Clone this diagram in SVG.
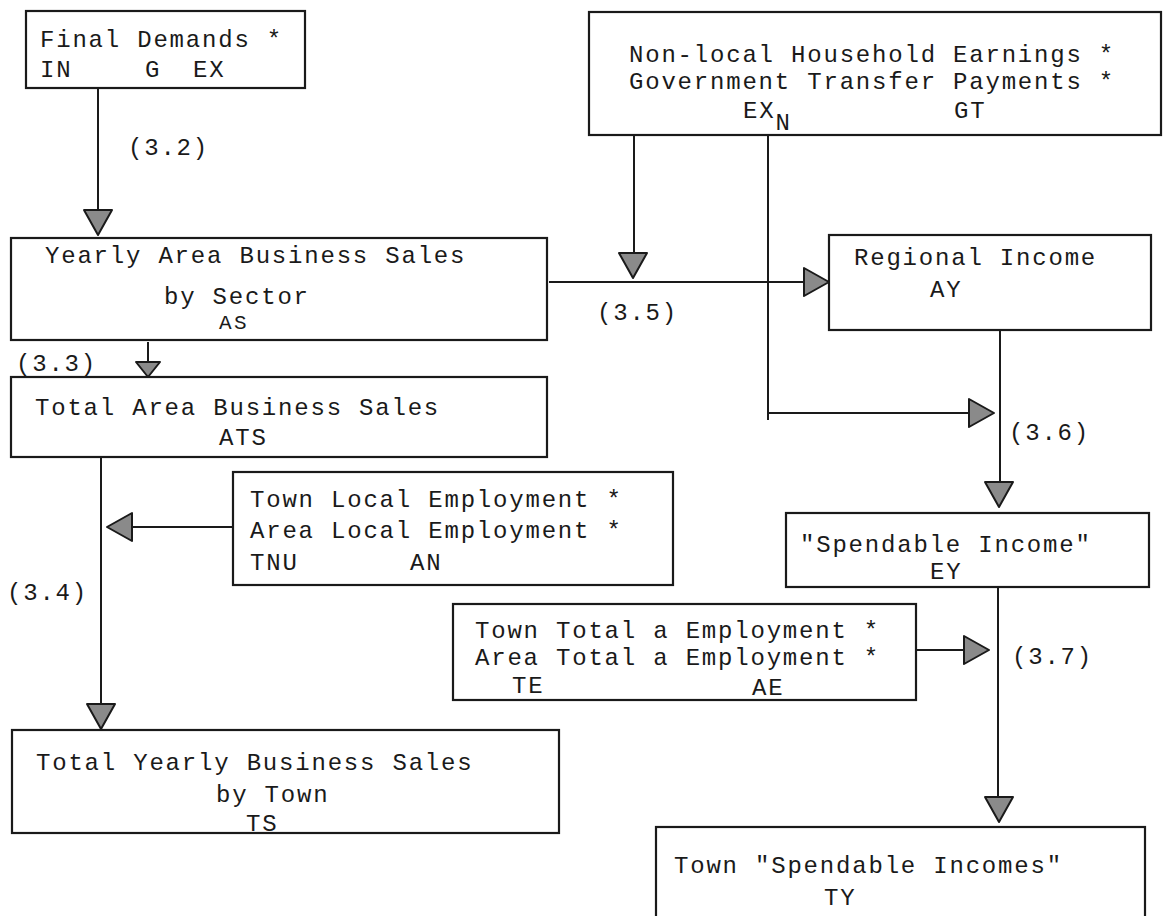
<svg xmlns="http://www.w3.org/2000/svg" width="1163" height="916" viewBox="0 0 1163 916">
<defs>
<style>
.box{fill:none;stroke:#1a1a1a;stroke-width:2.2}
.ln{fill:none;stroke:#1a1a1a;stroke-width:2}
.t{font-family:"Liberation Mono","DejaVu Sans Mono",monospace;font-size:24px;letter-spacing:1.8px;fill:#1a1a1a}
.s{font-size:21px;letter-spacing:2.5px}
.ah{fill:#8a8a8a;stroke:#1a1a1a;stroke-width:2;stroke-linejoin:round}
</style>
<polygon id="arr" class="ah" points="-14,-25 14,-25 0,0"/>
<polygon id="arrs" class="ah" points="-12,-15 12,-15 0,0"/>
</defs>
<rect width="1163" height="916" fill="#fff"/>

<g id="connectors">
<line class="ln" x1="98" y1="88" x2="98" y2="212"/>
<use href="#arr" transform="translate(98,235)"/>
<text class="t" x="128" y="155">(3.2)</text>

<line class="ln" x1="148" y1="342" x2="148" y2="364"/>
<use href="#arrs" transform="translate(148,377)"/>
<text class="t" x="16" y="371">(3.3)</text>

<line class="ln" x1="101" y1="457" x2="101" y2="706"/>
<use href="#arr" transform="translate(101,729)"/>
<text class="t" x="7" y="600">(3.4)</text>

<line class="ln" x1="233" y1="527" x2="130" y2="527"/>
<use href="#arr" transform="translate(107,527) rotate(90)"/>

<line class="ln" x1="549" y1="282" x2="808" y2="282"/>
<use href="#arr" transform="translate(829,282) rotate(-90)"/>
<line class="ln" x1="634" y1="135" x2="634" y2="256"/>
<use href="#arr" transform="translate(633,278)"/>
<text class="t" x="597" y="320">(3.5)</text>

<line class="ln" x1="768" y1="135" x2="768" y2="420"/>
<line class="ln" x1="768" y1="413" x2="972" y2="413"/>
<use href="#arr" transform="translate(994,413) rotate(-90)"/>
<line class="ln" x1="1000" y1="330" x2="1000" y2="485"/>
<use href="#arr" transform="translate(999,507)"/>
<text class="t" x="1009" y="440">(3.6)</text>

<line class="ln" x1="998" y1="587" x2="998" y2="800"/>
<use href="#arr" transform="translate(999,822)"/>
<line class="ln" x1="916" y1="650" x2="967" y2="650"/>
<use href="#arr" transform="translate(989,650) rotate(-90)"/>
<text class="t" x="1012" y="664">(3.7)</text>
</g>

<g id="final-demands">
<rect class="box" x="26" y="11" width="279" height="77"/>
<text class="t" x="40" y="47">Final Demands *</text>
<text class="t" x="40" y="77">IN</text>
<text class="t" x="145" y="77">G</text>
<text class="t" x="193" y="77">EX</text>
</g>

<g id="nonlocal">
<rect class="box" x="589" y="12" width="572" height="123"/>
<text class="t" x="629" y="62">Non-local Household Earnings *</text>
<text class="t" x="629" y="89">Government Transfer Payments *</text>
<text class="t" x="743" y="118">EX<tspan dy="12">N</tspan></text>
<text class="t" x="954" y="118">GT</text>
</g>

<g id="yearly-area-sales">
<rect class="box" x="11" y="238" width="536" height="102"/>
<text class="t" x="45" y="263">Yearly Area Business Sales</text>
<text class="t" x="164" y="304">by Sector</text>
<text class="t s" x="219" y="329">AS</text>
</g>

<g id="total-area-sales">
<rect class="box" x="11" y="377" width="536" height="80"/>
<text class="t" x="35" y="415">Total Area Business Sales</text>
<text class="t" x="219" y="445">ATS</text>
</g>

<g id="regional-income">
<rect class="box" x="829" y="235" width="322" height="95"/>
<text class="t" x="854" y="265">Regional Income</text>
<text class="t" x="930" y="297">AY</text>
</g>

<g id="local-employment">
<rect class="box" x="233" y="472" width="440" height="113"/>
<text class="t" x="250" y="507">Town Local Employment *</text>
<text class="t" x="250" y="538">Area Local Employment *</text>
<text class="t" x="250" y="570">TNU</text>
<text class="t" x="410" y="570">AN</text>
</g>

<g id="spendable-income">
<rect class="box" x="786" y="513" width="363" height="74"/>
<text class="t" x="800" y="552">"Spendable Income"</text>
<text class="t" x="930" y="579">EY</text>
</g>

<g id="total-employment">
<rect class="box" x="453" y="604" width="463" height="96"/>
<text class="t" x="475" y="638">Town Total a Employment *</text>
<text class="t" x="475" y="665">Area Total a Employment *</text>
<text class="t" x="512" y="693">TE</text>
<text class="t" x="752" y="695">AE</text>
</g>

<g id="town-sales">
<rect class="box" x="12" y="730" width="547" height="103"/>
<text class="t" x="36" y="770">Total Yearly Business Sales</text>
<text class="t" x="216" y="802">by Town</text>
<text class="t" x="246" y="831">TS</text>
</g>

<g id="town-spendable">
<rect class="box" x="656" y="827" width="489" height="110"/>
<text class="t" x="674" y="873">Town "Spendable Incomes"</text>
<text class="t" x="824" y="905">TY</text>
</g>
</svg>
